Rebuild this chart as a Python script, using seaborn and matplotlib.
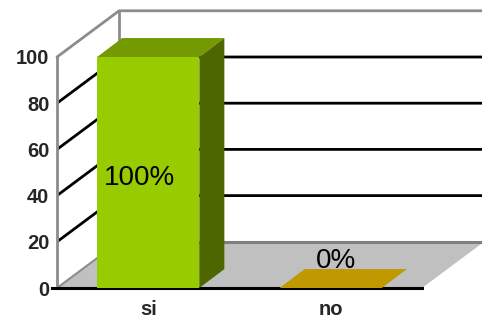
import matplotlib
matplotlib.use("Agg")
import matplotlib.pyplot as plt
from matplotlib.patches import Polygon
from matplotlib.ticker import FixedLocator
import seaborn as sns

# ---- data ----
categories = ["si", "no"]
values = [100, 0]
labels = ["100%", "0%"]
y_ticks = [0, 20, 40, 60, 80, 100]

# ---- style ----
front_colors = ["#99CC00", "#C09900"]
top_colors = ["#739A00", "#C09900"]
side_colors = ["#4D6600", "#8A6E00"]

sns.set_style("white")
plt.rcParams["font.family"] = ["Liberation Sans", "DejaVu Sans"]

fig = plt.figure(figsize=(4.82, 3.20), dpi=100)
W, H = 482, 320
x0_px, y0_px = 57, 288          # front origin (pixels from top-left)
px_per_x = 182.5                # pixels per category unit
px_per_y = 2.31                 # pixels per value unit
xmax = -0.5 + (W - x0_px) / px_per_x
ymax = (y0_px - 10.5) / px_per_y
ax = fig.add_axes([x0_px / W, (H - y0_px) / H, (W - x0_px) / W, (y0_px - 10.5) / H])

# 3D depth offsets (walls and bars)
DX, DY = 0.34, 20.0
BDX, BDY = 0.137, 8.2

sns.barplot(x=categories, y=values, hue=categories, palette=front_colors,
            width=0.56, legend=False, ax=ax, linewidth=0, saturation=1, zorder=3)

ax.set_xlim(-0.5, xmax)
ax.set_ylim(0, ymax)

# floor
floor = Polygon([(-0.5, 0), (1.5, 0), (1.5 + DX, DY), (-0.5 + DX, DY)],
                closed=True, facecolor="#C0C0C0", edgecolor="none", zorder=0.5)
ax.add_patch(floor)
grey = "#8C8C8C"
# floor back edge
ax.plot([-0.5 + DX, xmax], [DY, DY], color="#7F7F7F", lw=2.2, zorder=0.7, solid_capstyle="butt")
# gridlines: back wall + left wall diagonals
for v in y_ticks[1:-1]:
    ax.plot([-0.5, -0.5 + DX, xmax], [v, v + DY, v + DY], color="black", lw=2, zorder=0.6,
            solid_capstyle="butt")
# frame lines (grey)
ax.plot([-0.5, -0.5 + DX, xmax], [100, 100 + DY, 100 + DY], color=grey, lw=2, zorder=0.6,
        clip_on=False)
ax.plot([-0.5 + DX, -0.5 + DX], [DY, 100 + DY], color=grey, lw=2, zorder=0.6)
ax.plot([-0.5, -0.5 + DX], [0, DY], color=grey, lw=1.5, zorder=0.6)

# 3D faces of bars
bars = [p for p in ax.patches if p is not floor]
for bar, v, tc, sc, lab in zip(bars, values, top_colors, side_colors, labels):
    x_l = bar.get_x()
    x_r = x_l + bar.get_width()
    h = bar.get_height()
    top = Polygon([(x_l, h), (x_r, h), (x_r + BDX, h + BDY), (x_l + BDX, h + BDY)],
                  closed=True, facecolor=tc, edgecolor="none", zorder=3)
    ax.add_patch(top)
    if h > 0:
        side = Polygon([(x_r, 0), (x_r + BDX, BDY), (x_r + BDX, h + BDY), (x_r, h)],
                       closed=True, facecolor=sc, edgecolor="none", zorder=3)
        ax.add_patch(side)
    xc = x_l + bar.get_width() / 2
    if h > 20:
        ax.text(xc - 0.05, h * 0.476, lab, ha="center", va="center", fontsize=20,
                color="black", zorder=5)
    else:
        ax.text(xc + 0.03, h + 11.5, lab, ha="center", va="center", fontsize=20,
                color="black", zorder=5)

# spines
for s in ["top", "right"]:
    ax.spines[s].set_visible(False)
ax.spines["left"].set_color(grey)
ax.spines["left"].set_linewidth(2)
ax.spines["left"].set_bounds(0, 100)
ax.spines["bottom"].set_color("black")
ax.spines["bottom"].set_linewidth(2.2)
ax.spines["bottom"].set_bounds(-0.53, 1.5)
ax.spines["left"].set_zorder(0.8)

# ticks
ax.set_yticks(y_ticks)
ax.set_yticklabels([str(t) for t in y_ticks], fontsize=14.5, fontweight="bold")
ax.tick_params(axis="y", length=0, pad=5.5)
ax.set_xticks(range(len(categories)))
ax.set_xticklabels(categories, fontsize=14.5, fontweight="bold")
ax.tick_params(axis="x", which="major", length=0, pad=8.5)
ax.xaxis.set_minor_locator(FixedLocator([-0.5, 0.5, 1.5]))
ax.tick_params(axis="x", which="minor", length=4.5, width=1.5, color="black", direction="out")
ax.set_xlabel("")
ax.set_ylabel("")
ax.patch.set_alpha(0)

fig.savefig("out.png", dpi=100)
